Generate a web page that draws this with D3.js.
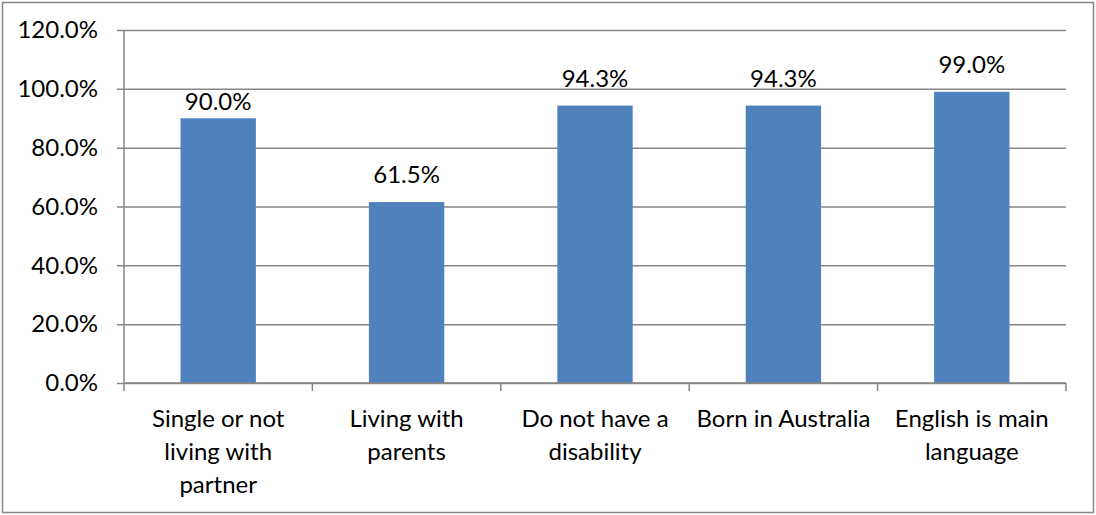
<!DOCTYPE html>
<html lang="en">
<head>
    <meta charset="UTF-8">
    <title>Share by characteristic</title>
    <script src="https://d3js.org/d3.v7.min.js"></script>
    <style>
        body { margin: 0; background: #fff; }
        svg text { font-family: Lato, "Open Sans", sans-serif; fill: #000; }
    </style>
</head>
<body>
    <svg width="1096" height="515"></svg>

    <script>
        // Data
        const categories = [
            "Single or not\nliving with\npartner",
            "Living with\nparents",
            "Do not have a\ndisability",
            "Born in Australia",
            "English is main\nlanguage"
        ];
        const values = [90.0, 61.5, 94.3, 94.3, 99.0];
        const yTicks = [0, 20, 40, 60, 80, 100, 120];

        const width = 1096, height = 515;
        const margin = { top: 30, right: 30, bottom: 132, left: 124 };
        const fontSize = "24px";
        // gap between bar top and label baseline (first label sits lower in the original)
        const labelGap = [8, 19, 19, 19, 19];

        const svg = d3.select("svg");

        // Outer frame
        svg.append("rect")
           .attr("x", 2.5).attr("y", 2.5)
           .attr("width", width - 5).attr("height", height - 5)
           .attr("fill", "none")
           .attr("stroke", "#868686")
           .attr("stroke-width", 1.5);

        const xScale = d3.scaleBand()
                         .domain(categories)
                         .range([margin.left, width - margin.right])
                         .paddingInner(0.6)
                         .paddingOuter(0.3);

        const yScale = d3.scaleLinear()
                         .domain([0, 120])
                         .range([height - margin.bottom, margin.top]);

        // Y axis with gridlines
        const yAxis = svg.append("g")
           .attr("transform", `translate(${margin.left},0)`)
           .call(d3.axisLeft(yScale)
                   .tickValues(yTicks)
                   .tickSize(-(width - margin.left - margin.right))
                   .tickPadding(26)
                   .tickFormat(d => d.toFixed(1) + "%"));
        yAxis.select(".domain").remove();
        yAxis.selectAll(".tick line")
             .attr("x1", -7)
             .attr("stroke", "#868686")
             .attr("stroke-width", 1.5);
        yAxis.selectAll("text")
             .style("font-size", fontSize)
             .attr("fill", "#000");

        // Left vertical axis line
        svg.append("line")
           .attr("x1", margin.left).attr("x2", margin.left)
           .attr("y1", yScale(120)).attr("y2", yScale(0))
           .attr("stroke", "#868686")
           .attr("stroke-width", 1.5);

        // Bars
        svg.selectAll(".bar")
           .data(values)
           .enter().append("rect")
           .attr("class", "bar")
           .attr("x", (d, i) => xScale(categories[i]))
           .attr("y", d => yScale(d))
           .attr("width", xScale.bandwidth())
           .attr("height", d => yScale(0) - yScale(d))
           .attr("fill", "#4F81BD");

        // Value labels
        svg.selectAll(".val")
           .data(values)
           .enter().append("text")
           .attr("class", "val")
           .attr("x", (d, i) => xScale(categories[i]) + xScale.bandwidth() / 2)
           .attr("y", (d, i) => yScale(d) - labelGap[i])
           .attr("text-anchor", "middle")
           .style("font-size", fontSize)
           .text(d => d.toFixed(1) + "%");

        // X axis (category boundary ticks)
        const bounds = d3.range(categories.length + 1).map(i => margin.left + i * (width - margin.left - margin.right) / categories.length);
        svg.append("line")
           .attr("x1", margin.left).attr("x2", width - margin.right)
           .attr("y1", yScale(0)).attr("y2", yScale(0))
           .attr("stroke", "#868686")
           .attr("stroke-width", 1.5);
        svg.selectAll(".xtick")
           .data(bounds)
           .enter().append("line")
           .attr("class", "xtick")
           .attr("x1", d => d).attr("x2", d => d)
           .attr("y1", yScale(0)).attr("y2", yScale(0) + 8)
           .attr("stroke", "#868686")
           .attr("stroke-width", 1.5);

        // Category labels
        categories.forEach(c => {
            const cx = xScale(c) + xScale.bandwidth() / 2;
            const t = svg.append("text")
                         .attr("x", cx)
                         .attr("y", yScale(0) + 44)
                         .attr("text-anchor", "middle")
                         .style("font-size", fontSize);
            c.split("\n").forEach((line, j) => {
                t.append("tspan")
                 .attr("x", cx)
                 .attr("dy", j === 0 ? 0 : 33)
                 .text(line);
            });
        });
    </script>
</body>
</html>
